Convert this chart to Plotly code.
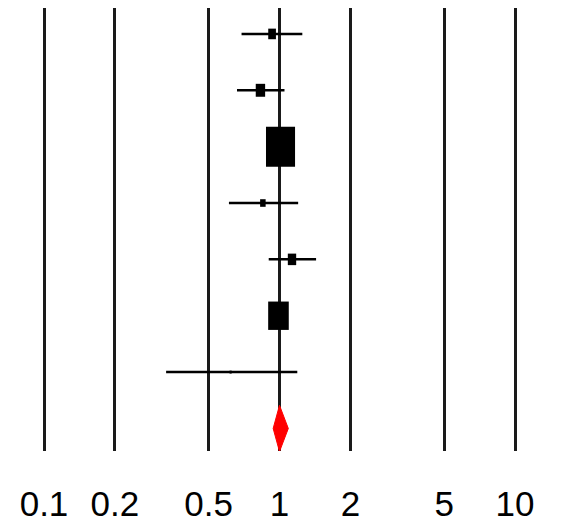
import numpy as np
import plotly.graph_objects as go

# ---- data ----
studies = ["S1", "S2", "S3", "S4", "S5", "S6", "S7"]
estimate = [0.93, 0.83, 1.01, 0.85, 1.13, 0.99, 0.62]
lower = [0.69, 0.66, 0.93, 0.61, 0.90, 0.91, 0.33]
upper = [1.25, 1.05, 1.10, 1.20, 1.43, 1.08, 1.19]
weights = [3.9, 5.8, 55.5, 2.0, 4.6, 27.9, 0.3]
pooled_est = 1.00
pooled_lower = 0.94
pooled_upper = 1.09
tick_vals = [0.1, 0.2, 0.5, 1, 2, 5, 10]
tick_text = ["0.1", "0.2", "0.5", "1", "2", "5", "10"]

est = np.array(estimate)
lo = np.array(lower)
hi = np.array(upper)
w = np.sqrt(np.array(weights))
rows = np.arange(1, len(studies) + 1)
pooled_row = len(studies) + 1

fig = go.Figure()

# confidence intervals
fig.add_trace(go.Scatter(
    x=est, y=rows, mode="markers",
    marker=dict(size=0.1, color="black", opacity=0),
    error_x=dict(type="data", symmetric=False, array=hi - est, arrayminus=est - lo,
                 width=0, thickness=2.5, color="black"),
    showlegend=False, hoverinfo="skip",
))

# boxes: vertical thick line markers -> rectangles taller than wide
box_w = 3.9 * w
box_h = 5.37 * w
fig.add_trace(go.Scatter(
    x=est, y=rows, mode="markers",
    marker=dict(symbol="line-ns", size=box_h / 1.4, opacity=1,
                line=dict(width=box_w, color="black"), color="black"),
    showlegend=False, text=studies,
))

# pooled diamond
half = 0.41
fig.add_trace(go.Scatter(
    x=[pooled_lower, pooled_est, pooled_upper, pooled_est, pooled_lower],
    y=[pooled_row, pooled_row - half, pooled_row, pooled_row + half, pooled_row],
    mode="lines", fill="toself", fillcolor="red",
    line=dict(color="red", width=1), showlegend=False,
))

fig.update_layout(
    width=554, height=515,
    margin=dict(l=12, r=23, t=0, b=70),
    paper_bgcolor="white", plot_bgcolor="white",
    font=dict(family="Liberation Sans Narrow, Liberation Sans, Arial", color="black"),
)
fig.update_xaxes(
    type="log", range=[-1.1019, 1.1019],
    tickvals=tick_vals, ticktext=tick_text,
    showgrid=True, gridcolor="#1a1a1a", gridwidth=3,
    zeroline=False, showline=False, ticks="",
    tickfont=dict(size=35, family="Liberation Sans Narrow, Liberation Sans, Arial", color="black"),
    ticklabelstandoff=29,
)
fig.update_yaxes(
    range=[8.40, 0.54], showgrid=False, zeroline=False, showline=False,
    showticklabels=False, ticks="",
)

fig.write_html("out.html")
